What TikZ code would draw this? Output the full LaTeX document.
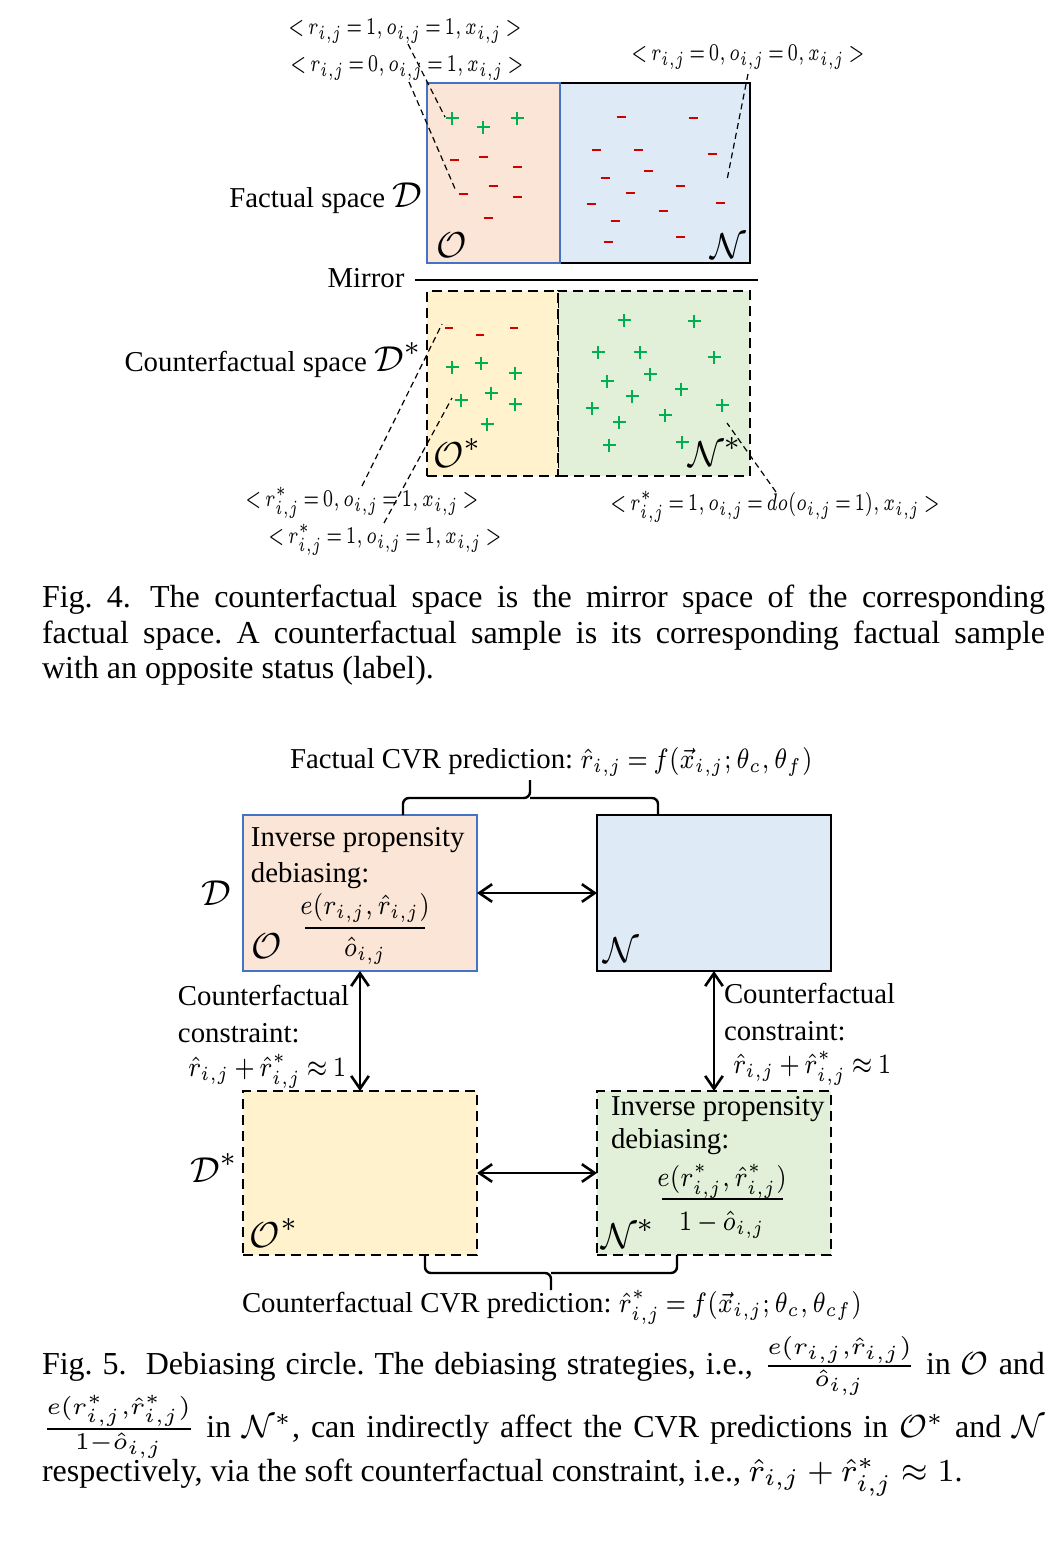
\documentclass[tikz,border=0pt]{standalone}
\usepackage[no-math]{fontspec}
\setmainfont{Liberation Serif}
\usepackage{amsmath,amssymb,graphicx}
\usetikzlibrary{arrows.meta}
\definecolor{peach}{HTML}{FBE5D6}
\definecolor{lblue}{HTML}{DEEBF7}
\definecolor{lyellow}{HTML}{FFF2CC}
\definecolor{lgreen}{HTML}{E2F0D9}
\definecolor{bborder}{HTML}{4472C4}
\definecolor{pgreen}{HTML}{00B050}
\definecolor{mred}{HTML}{D00000}
\newcommand\figm[1]{\scalebox{0.84}[1]{$\thickmuskip=3.5mu\medmuskip=3mu #1$}}
\newcommand\labm[1]{\scalebox{0.71}[1]{$\thickmuskip=3mu #1$}}
\frenchspacing
\begin{document}
\begin{tikzpicture}[x=0.25pt,y=-0.25pt,
  every node/.style={inner sep=0pt, outer sep=0pt},
  figtext/.style={font=\fontsize{7.2}{8.9}\selectfont},
  lbl/.style={font=\fontsize{6.3}{7}\selectfont},
  capt/.style={font=\fontsize{8}{8.875}\selectfont, anchor=base west},
  calbig/.style={font=\fontsize{9.3}{9.3}\selectfont},
  solidbox/.style={draw, rectangle, line width=0.7pt},
  dashbox/.style={draw, rectangle, line width=0.65pt, dash pattern=on 2.5pt off 1.5pt},
  leader/.style={line width=0.3pt, dash pattern=on 1.5pt off 1pt},
  plusm/.style={pgreen, line width=0.42pt},
  minusm/.style={mred, line width=0.55pt},
  dbl/.style={<->, line width=0.65pt, >={Straight Barb[length=3.2pt,width=4.4pt]}},
  bracel/.style={line width=0.6pt, rounded corners=1.5pt}
]
\useasboundingbox (0,0) rectangle (1062,1546);

% ---------------- Fig. 4 ----------------
\node[solidbox, draw=black, fill=lblue, minimum width=47.5pt, minimum height=45pt] (N4) at (655,173) {};
\node[solidbox, draw=bborder, fill=peach, minimum width=33.25pt, minimum height=45pt] (O4) at (493.5,173) {};
\node[dashbox, fill=lgreen, minimum width=48pt, minimum height=46.25pt] (Ns4) at (654,383.5) {};
\node[dashbox, fill=lyellow, minimum width=32.75pt, minimum height=46.25pt] (Os4) at (492.5,383.5) {};

\coordinate (mirL) at (415,280);
\coordinate (mirR) at (758,280);
\draw[line width=0.45pt] (mirL) -- (mirR);

% pluses and minuses (factual)
\foreach \x/\y in {452/118, 483/127, 517/118}
  \draw[plusm] (\x-6.5,\y) -- (\x+6.5,\y) (\x,\y-6.5) -- (\x,\y+6.5);
\foreach \x/\y in {454/160, 483/157, 517/167, 463/194, 493/186, 517/197, 488/218,
  621/117, 693/118, 596/150, 638/150, 712/154, 648/171, 605/178, 680/186, 630/193,
  591/204, 720/203, 663/211, 615/221, 608/242, 680/237}
  \draw[minusm] (\x-4.5,\y) -- (\x+4.5,\y);
% counterfactual
\foreach \x/\y in {449/328, 480/335, 514/328}
  \draw[minusm] (\x-3.8,\y) -- (\x+3.8,\y);
\foreach \x/\y in {452/367, 481/363, 515/373, 461/400, 491/393, 515/404, 487/424,
  624/320, 694/321, 598/352, 640/352, 714/357, 650/374, 607/381, 681/389, 632/396,
  592/408, 722/405, 665/415, 619/422, 609/445, 682/442}
  \draw[plusm] (\x-6.5,\y) -- (\x+6.5,\y) (\x,\y-6.5) -- (\x,\y+6.5);

% labels inside boxes
\node[calbig, anchor=base west] (Olab4) at (436,257) {$\mathcal{O}$};
\node[calbig, anchor=base east] (Nlab4) at (746,258) {$\mathcal{N}$};
\node[calbig, anchor=base west] (Oslab4) at (433,467) {$\mathcal{O}^*$};
\node[calbig, anchor=base west] (Nslab4) at (688,466) {$\mathcal{N}^*$};

% side texts
\node[figtext, anchor=base east] (fs) at (422,207) {Factual space \fontsize{9.3}{9.3}\selectfont$\mathcal{D}$};
\node[figtext, anchor=base] (mir) at (366,287) {Mirror};
\node[figtext, anchor=base east] (cfs) at (422,371) {Counterfactual space \fontsize{9.3}{9.3}\selectfont$\mathcal{D}^*$};

% sample labels
\node[lbl] (L1) at (405,31) {\labm{<r_{i,j}=1,o_{i,j}=1,x_{i,j}>}};
\node[lbl] (L2) at (407,68) {\labm{<r_{i,j}=0,o_{i,j}=1,x_{i,j}>}};
\node[lbl] (L3) at (748,57) {\labm{<r_{i,j}=0,o_{i,j}=0,x_{i,j}>}};
\node[lbl] (L4) at (362,503) {\labm{<r^*_{i,j}=0,o_{i,j}=1,x_{i,j}>}};
\node[lbl] (L5) at (385,540) {\labm{<r^*_{i,j}=1,o_{i,j}=1,x_{i,j}>}};
\node[lbl] (L6) at (775,507) {\labm{<r^*_{i,j}=1,o_{i,j}=do(o_{i,j}=1),x_{i,j}>}};

\coordinate (l1s) at (408,44);  \coordinate (l1e) at (445,117);
\coordinate (l2s) at (409,82);  \coordinate (l2e) at (456,191);
\coordinate (l3s) at (748,74);  \coordinate (l3e) at (727,180);
\coordinate (l4s) at (362,486); \coordinate (l4e) at (442,324);
\coordinate (l5s) at (384,523); \coordinate (l5e) at (452,398);
\coordinate (l6s) at (776,492); \coordinate (l6e) at (727,423);
\draw[leader] (l1s) -- (l1e);
\draw[leader] (l2s) -- (l2e);
\draw[leader] (l3s) -- (l3e);
\draw[leader] (l4s) -- (l4e);
\draw[leader] (l5s) -- (l5e);
\draw[leader] (l6s) -- (l6e);

% captions Fig. 4
\node[capt] (c4a) at (42,607) {\hbox to 250.75pt{Fig.~4.\hspace{0.6em}The counterfactual space is the mirror space of the corresponding}};
\node[capt] (c4b) at (42,643) {\hbox to 250.75pt{factual space. A counterfactual sample is its corresponding factual sample}};
\node[capt] (c4c) at (42,678) {with an opposite status (label).};

% ---------------- Fig. 5 ----------------
\node[solidbox, draw=bborder, fill=peach, minimum width=58.5pt, minimum height=39pt] (O5) at (360,893) {};
\node[solidbox, draw=black, fill=lblue, minimum width=58.5pt, minimum height=39pt] (N5) at (714,893) {};
\node[dashbox, fill=lyellow, minimum width=58.5pt, minimum height=41pt] (Os5) at (360,1173) {};
\node[dashbox, fill=lgreen, minimum width=58.5pt, minimum height=41pt] (Ns5) at (714,1173) {};

\draw[dbl] (O5.east) -- (N5.west);
\draw[dbl] (Os5.east) -- (Ns5.west);
\draw[dbl] (O5.south) -- (Os5.north);
\draw[dbl] (N5.south) -- (Ns5.north);

% O box text
\node[figtext, anchor=base west] (ip1) at (251,846) {Inverse propensity};
\node[figtext, anchor=base west] (db1) at (251,882) {debiasing:};
\node[figtext, anchor=base] (num1) at (365,914) {\figm{e(r_{i,j},\hat{r}_{i,j})}};
\node[figtext, anchor=base] (den1) at (365,956) {\figm{\hat{o}_{i,j}}};
\draw[line width=0.4pt] (305,928) -- (425,928);
\node[calbig, anchor=base west] (Olab5) at (252,958) {$\mathcal{O}$};
\node[calbig] (Dlab5) at (216,893) {$\mathcal{D}$};
\node[calbig, anchor=base west] (Nlab5) at (603,962) {$\mathcal{N}$};

% N* box text
\node[figtext, anchor=base west] (ip2) at (611,1115) {Inverse propensity};
\node[figtext, anchor=base west] (db2) at (611,1148) {debiasing:};
\node[figtext, anchor=base] (num2) at (722,1186) {\figm{e(r^*_{i,j},\hat{r}^*_{i,j})}};
\node[figtext, anchor=base] (den2) at (722,1230) {\figm{1-\hat{o}_{i,j}}};
\draw[line width=0.4pt] (662,1199) -- (783,1199);
\node[calbig, anchor=base west] (Nslab5) at (601,1248) {$\mathcal{N}^*$};
\node[calbig, anchor=base west] (Oslab5) at (250,1247) {$\mathcal{O}^*$};
\node[calbig] (Dslab5) at (214,1168) {$\mathcal{D}^*$};

% constraint labels
\node[figtext, anchor=base west] (cl1) at (178,1005) {Counterfactual};
\node[figtext, anchor=base west] (cl2) at (178,1042) {constraint:};
\node[figtext, anchor=base west] (cl3) at (188,1076) {\figm{\hat{r}_{i,j}+\hat{r}^*_{i,j}\approx 1}};
\node[figtext, anchor=base west] (cr1) at (724,1003) {Counterfactual};
\node[figtext, anchor=base west] (cr2) at (724,1040) {constraint:};
\node[figtext, anchor=base west] (cr3) at (733,1073) {\figm{\hat{r}_{i,j}+\hat{r}^*_{i,j}\approx 1}};

% braces and prediction labels
\node[figtext, anchor=base west] (fp) at (290,768) {Factual CVR prediction: \figm{\hat{r}_{i,j}=f(\vec{x}_{i,j};\theta_c,\theta_f)}};
\node[figtext, anchor=base west] (cp) at (242,1312) {Counterfactual CVR prediction: \figm{\hat{r}^*_{i,j}=f(\vec{x}_{i,j};\theta_c,\theta_{cf})}};
\coordinate (bt) at (530,780);
\coordinate (bb) at (551,1290);
\draw[bracel] ([xshift=10.75pt]O5.north) |- (530,798) -- (bt);
\draw[bracel] ([xshift=-14pt]N5.north) |- (530,798);
\draw[bracel] ([xshift=16.25pt]Os5.south) |- (551,1273) -- (bb);
\draw[bracel] ([xshift=-9.25pt]Ns5.south) |- (551,1273);

% captions Fig. 5
\node[capt] (c5a) at (42,1374) {\hbox to 250.75pt{Fig.~5.\hspace{0.6em}Debiasing circle. The debiasing strategies, i.e., $\frac{e(r_{i,j},\hat{r}_{i,j})}{\hat{o}_{i,j}}$ in $\mathcal{O}$ and}};
\node[capt] (c5b) at (42,1437) {\hbox to 250.75pt{$\frac{e(r^*_{i,j},\hat{r}^*_{i,j})}{1-\hat{o}_{i,j}}$ in $\mathcal{N}^*$, can indirectly affect the CVR predictions in $\mathcal{O}^*$ and $\mathcal{N}$}};
\node[capt] (c5c) at (42,1481) {respectively, via the soft counterfactual constraint, i.e., $\hat{r}_{i,j}+\hat{r}^*_{i,j}\approx 1$.};
\end{tikzpicture}
\end{document}
